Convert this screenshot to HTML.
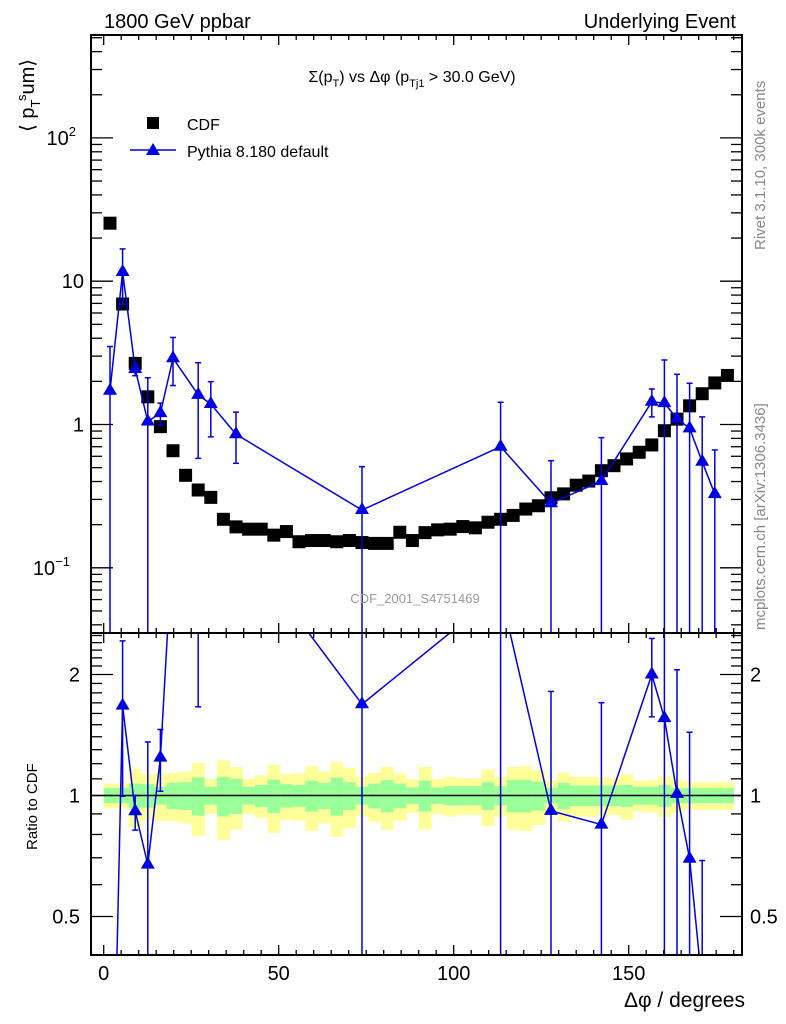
<!DOCTYPE html>
<html><head><meta charset="utf-8">
<style>
html,body{margin:0;padding:0;background:#fff;overflow:hidden;width:786px;height:1024px;}
svg{display:block;font-family:"Liberation Sans",sans-serif;}
</style></head>
<body>
<svg id="chart" width="786" height="1024" viewBox="0 0 786 1024" xmlns="http://www.w3.org/2000/svg">
<defs>
<clipPath id="clipTop"><rect x="91" y="35" width="651" height="598"/></clipPath>
<clipPath id="clipRatio"><rect x="91" y="633" width="651" height="322"/></clipPath>
</defs>
<rect x="0" y="0" width="786" height="1024" fill="#fff"/>
<g id="bands" clip-path="url(#clipRatio)"></g>
<g id="topMarks" clip-path="url(#clipTop)"></g>
<g id="ratioMarks" clip-path="url(#clipRatio)"></g>
<g id="axes"></g>
<text x="104" y="28" font-size="20">1800 GeV ppbar</text>
<text x="736" y="28" font-size="20" text-anchor="end">Underlying Event</text>
<text x="412" y="82" font-size="16" text-anchor="middle">Σ(p<tspan font-size="11" dy="5">T</tspan><tspan dy="-5">) vs Δφ (p</tspan><tspan font-size="11" dy="5">Tj1</tspan><tspan dy="-5"> &gt; 30.0 GeV)</tspan></text>
<g>
<rect x="147" y="117" width="12" height="12" fill="#000"/>
<text x="187" y="130" font-size="16">CDF</text>
<line x1="130" y1="150" x2="176" y2="150" stroke="#0000e0" stroke-width="1.5"/>
<polygon points="153,143 160,155 146,155" fill="#0000e0"/>
<text x="187" y="157" font-size="16">Pythia 8.180 default</text>
</g>
<text transform="translate(34,132) rotate(-90)" font-size="20">⟨ p<tspan font-size="13" dy="6">T</tspan><tspan font-size="13" dy="-14">s</tspan><tspan dy="8">um⟩</tspan></text>
<text transform="translate(37,850) rotate(-90)" font-size="15">Ratio to CDF</text>
<text x="745" y="1007" font-size="21" text-anchor="end">Δφ / degrees</text>
<text x="415" y="603" font-size="13" fill="#999" text-anchor="middle">CDF_2001_S4751469</text>
<text transform="translate(765,250) rotate(-90)" font-size="15" fill="#888">Rivet 3.1.10,  300k events</text>
<text transform="translate(765,630) rotate(-90)" font-size="15" fill="#888">mcplots.cern.ch [arXiv:1306.3436]</text>
</svg>
<script>
// ---- data ----
const cdfX = [1.8,5.4,9.0,12.6,16.2,19.8,23.4,27.0,30.6,34.2,37.8,41.4,45.0,48.6,52.2,55.8,59.4,63.0,66.6,70.2,73.8,77.4,81.0,84.6,88.2,91.8,95.4,99.0,102.6,106.2,109.8,113.4,117.0,120.6,124.2,127.8,131.4,135.0,138.6,142.2,145.8,149.4,153.0,156.6,160.2,163.8,167.4,171.0,174.6,178.2];
const cdfY = [25.4,6.93,2.67,1.56,0.966,0.656,0.442,0.349,0.31,0.218,0.193,0.186,0.186,0.169,0.179,0.152,0.155,0.155,0.152,0.155,0.150,0.148,0.148,0.177,0.155,0.176,0.184,0.186,0.194,0.19,0.208,0.218,0.232,0.257,0.271,0.308,0.328,0.377,0.403,0.476,0.516,0.575,0.64,0.72,0.905,1.09,1.35,1.64,1.95,2.2];
const cdfTotErrPct = [7.1,7.1,16.5,13.2,13.6,13.6,14.7,20.6,10.0,22.4,17.8,10.0,12.1,19.2,13.0,13.4,18.3,14.7,21.0,16.9,11.3,13.9,17.8,13.4,9.6,17.8,10.0,11.3,10.4,10.4,16.1,11.3,17.8,18.3,15.6,9.2,13.9,11.3,11.3,10.9,10.4,13.0,8.8,9.2,11.7,9.6,7.9,7.9,7.9,7.9];
const cdfStatErrPct = [4.3,4.3,7.1,6.7,5.1,7.5,7.9,10.9,5.1,11.3,10.0,5.1,6.3,9.6,6.7,6.3,8.8,7.5,10.9,7.9,5.1,7.1,9.2,7.1,4.7,8.8,4.7,5.5,5.5,5.5,7.9,5.5,9.2,9.2,8.3,4.3,7.5,5.9,5.9,5.9,5.9,6.3,5.1,5.1,6.3,4.3,4.3,4.3,4.3,4.3];
const pyX = [1.8,5.4,9.0,12.6,16.2,19.8,27.0,30.6,37.8,73.8,113.4,127.8,142.2,156.6,160.2,163.8,167.4,171.0,174.6];
const pyY = [1.72,11.6,2.44,1.05,1.2,2.9,1.61,1.39,0.855,0.253,0.70,0.282,0.403,1.44,1.41,1.10,0.94,0.55,0.327];
const pyErrUp = [1.78,5.2,0.23,1.07,0.21,1.15,1.09,0.6,0.365,0.255,0.73,0.277,0.407,0.33,1.41,1.14,1.0,0.58,0.337];
const pyErrDown = [1.72,4.7,0.25,1.05,0.21,1.03,1.03,0.57,0.319,0.253,0.70,0.282,0.403,0.31,1.41,1.10,0.94,0.55,0.327];
const xTicksMajor = [0,50,100,150];
const ratioTickLabels = [0.5,1,2];

// ---- scales (clamped to panel extents) ----
const clamp = (y,a,b) => Math.min(b, Math.max(a, y));
const X = v => 103.7 + 3.5*v;
const YT = v => clamp(424.5 - 143.3*Math.log10(Math.max(v,1e-4)), 20, 645);
const YR = r => clamp(795.5 - 402*Math.log10(Math.max(r,1e-4)), 620, 965);
const NS = "http://www.w3.org/2000/svg";
function mk(tag, attrs, parent){
  const e = document.createElementNS(NS, tag);
  for (const k in attrs) e.setAttribute(k, attrs[k]);
  parent.appendChild(e); return e;
}
const bands = document.getElementById('bands');
const topG = document.getElementById('topMarks');
const ratG = document.getElementById('ratioMarks');
const axG = document.getElementById('axes');
const BLUE = '#0000e0';

// ---- ratio bands ----
for (let i=0;i<cdfX.length;i++){
  const x0 = X(cdfX[i]-1.8), x1 = X(cdfX[i]+1.8);
  const t = cdfTotErrPct[i]/100, s = cdfStatErrPct[i]/100;
  const y = mk('rect',{x:x0,y:YR(1+t),width:x1-x0+0.3,height:YR(1-t)-YR(1+t),fill:'#ffff99'},bands);
  
  
  const g = mk('rect',{x:x0,y:YR(1+s),width:x1-x0+0.3,height:YR(1-s)-YR(1+s),fill:'#99ff99'},bands);
  
  
}
const ref = mk('line',{x1:91,x2:742,y1:YR(1),y2:YR(1),stroke:'#000','stroke-width':1.5},bands);



// ---- CDF markers ----
for (let i=0;i<cdfX.length;i++){
  const r = mk('rect',{x:X(cdfX[i])-6.5,y:YT(cdfY[i])-6.5,width:13,height:13,fill:'#000'},topG);
  
  
}

// ---- Pythia in both panels ----
function drawPythia(g, yfn, vals, up, dn, name){
  // line segments computed with unclamped math then clipped by clipPath; keep points clamped but interpolate
  const raw = name==='pythia' ? (v=>424.5 - 143.3*Math.log10(v)) : (v=>795.5 - 402*Math.log10(v));
  const lo = name==='pythia' ? 35 : 633, hi = name==='pythia' ? 633 : 955;
  for (let i=0;i<vals.length-1;i++){
    let x1=X(pyX[i]), y1=raw(vals[i]), x2=X(pyX[i+1]), y2=raw(vals[i+1]);
    // clip segment to [lo,hi] in y
    const cl = (xa,ya,xb,yb)=>{
      if (ya<lo){ const f=(lo-ya)/(yb-ya); xa=xa+f*(xb-xa); ya=lo; }
      if (ya>hi){ const f=(hi-ya)/(yb-ya); xa=xa+f*(xb-xa); ya=hi; }
      return [xa,ya];
    };
    if ((y1<lo&&y2<lo)||(y1>hi&&y2>hi)) continue;
    [x1,y1]=cl(x1,y1,x2,y2);
    [x2,y2]=cl(x2,y2,x1,y1);
    const seg = mk('line',{x1:x1,y1:y1,x2:x2,y2:y2,stroke:BLUE,'stroke-width':1.5},g);
    
    
  }
  for (let i=0;i<vals.length;i++){
    const x = X(pyX[i]);
    const yh = yfn(vals[i]+up[i]), yl = yfn(vals[i]-dn[i]);
    const eb = mk('line',{x1:x,x2:x,y1:yh,y2:yl,stroke:BLUE,'stroke-width':1.5},g);
    
    
    mk('line',{x1:x-3,x2:x+3,y1:yh,y2:yh,stroke:BLUE,'stroke-width':1.5},g);
    if (vals[i]-dn[i] > 1e-3) mk('line',{x1:x-3,x2:x+3,y1:yl,y2:yl,stroke:BLUE,'stroke-width':1.5},g);
    const yr = raw(vals[i]);
    if (yr<lo-10||yr>hi+10) continue;
    const y = yfn(vals[i]);
    const m = mk('polygon',{points:`${x},${y-8} ${x+7},${y+4} ${x-7},${y+4}`,fill:BLUE},g);
    
    
  }
}
drawPythia(topG, YT, pyY, pyErrUp, pyErrDown, 'pythia');
const cdfAt = xv => cdfY[cdfX.findIndex(c=>Math.abs(c-xv)<0.01)];
const rv = pyY.map((v,i)=>v/cdfAt(pyX[i]));
const ru = pyErrUp.map((v,i)=>v/cdfAt(pyX[i]));
const rd = pyErrDown.map((v,i)=>v/cdfAt(pyX[i]));
drawPythia(ratG, YR, rv, ru, rd, 'pythia-ratio');

// ---- axes / frames ----
function frame(y0,y1,name){
  const f = mk('rect',{x:91,y:y0,width:651,height:y1-y0,fill:'none',stroke:'#000','stroke-width':2},axG);
  
  
}
frame(35,633,'main-plot-frame');
frame(633,955,'ratio-plot-frame');
for (let v=0; v<=180; v+=5){
  const major = v%50===0, len = major?10:5;
  [[633,633-len],[955,955-len],[35,35+len],[633,633+len]].forEach(([a,b])=>mk('line',{x1:X(v),x2:X(v),y1:a,y2:b,stroke:'#000','stroke-width':1.3},axG));
}
xTicksMajor.forEach(v=>{
  const t = mk('text',{x:X(v),y:980,'font-size':20,'text-anchor':'middle'},axG);
  t.textContent = v;
  
  
});
const YTraw = v => 424.5 - 143.3*Math.log10(v);
for (let d=-2; d<=2; d++){
  for (let m=1;m<=9;m++){
    const v = m*Math.pow(10,d), y = YTraw(v);
    if (y<35||y>633) continue;
    const len = m===1?22:11;
    mk('line',{x1:91,x2:91+len,y1:y,y2:y,stroke:'#000','stroke-width':1.3},axG);
    mk('line',{x1:742,x2:742-len,y1:y,y2:y,stroke:'#000','stroke-width':1.3},axG);
  }
}
const topLabels = [[100,'10','2'],[10,'10',''],[1,'1',''],[0.1,'10','−1']];
topLabels.forEach(([v,b,e])=>{
  const t = mk('text',{x:84,y:YT(v)+7,'font-size':20,'text-anchor':'end'},axG);
  t.textContent = b;
  if (e){ const s = mk('tspan',{'font-size':13,dy:-9},t); s.textContent = e; t.setAttribute('x', 84 - (e.length>1?14:8));}
  
  
});
for (let r=0.4; r<=2.55; r+=0.1){
  const rr = Math.round(r*10)/10, y = 795.5 - 402*Math.log10(rr);
  if (y<633||y>955) continue;
  const major = (rr===0.5||rr===1||rr===2), len = major?22:11;
  mk('line',{x1:91,x2:91+len,y1:y,y2:y,stroke:'#000','stroke-width':1.3},axG);
  mk('line',{x1:742,x2:742-len,y1:y,y2:y,stroke:'#000','stroke-width':1.3},axG);
}
ratioTickLabels.forEach(v=>{
  [[80,'end'],[750,'start']].forEach(([x,a])=>{
    const t = mk('text',{x:x,y:YR(v)+7,'font-size':20,'text-anchor':a},axG);
    t.textContent = v;
    
    
  });
});
</script>
</body></html>
